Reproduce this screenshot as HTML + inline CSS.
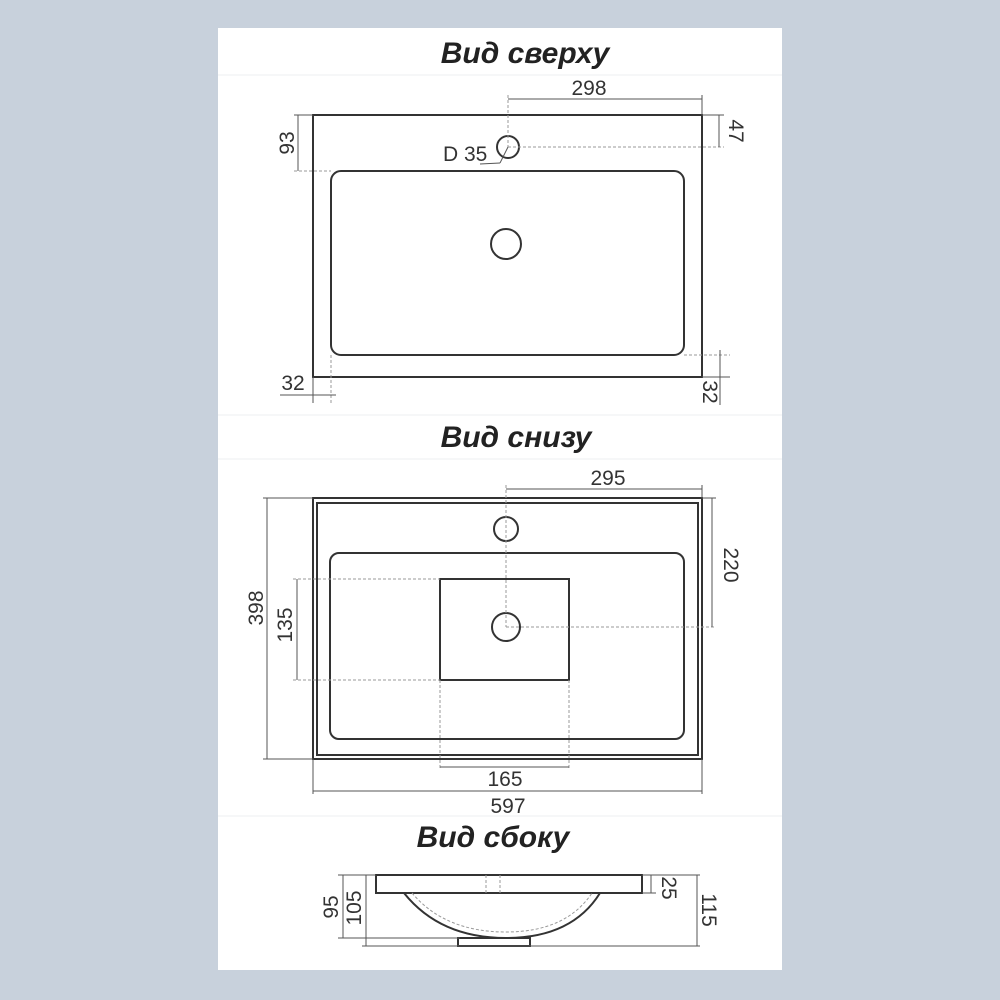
<!DOCTYPE html>
<html><head><meta charset="utf-8"><style>
html,body{margin:0;padding:0;background:#c8d1dc;}
svg{display:block}
text{font-family:"Liberation Sans",sans-serif;fill:#333}
.t{font-size:30px;font-weight:bold;font-style:italic;fill:#222}
.d{font-size:21px}
.k{fill:none;stroke:#333;stroke-width:2}
.m{fill:none;stroke:#555;stroke-width:1}
.h{fill:none;stroke:#999;stroke-width:1;stroke-dasharray:3 2}
</style></head><body>
<svg width="1000" height="1000" viewBox="0 0 1000 1000">
<rect x="0" y="0" width="1000" height="1000" fill="#c8d1dc"/>
<rect x="218" y="28" width="564" height="942" fill="#fff"/>
<g stroke="#eceff2" stroke-width="1">
<line x1="218" y1="75" x2="782" y2="75"/><line x1="218" y1="415" x2="782" y2="415"/>
<line x1="218" y1="459" x2="782" y2="459"/><line x1="218" y1="816" x2="782" y2="816"/>
</g>
<text class="t" x="525" y="63" text-anchor="middle">Вид сверху</text>
<text class="t" x="516" y="447" text-anchor="middle">Вид снизу</text>
<text class="t" x="493" y="847" text-anchor="middle">Вид сбоку</text>

<!-- TOP VIEW -->
<rect class="k" x="313" y="115" width="389" height="262"/>
<rect class="k" x="331" y="171" width="353" height="184" rx="10"/>
<circle class="k" cx="508" cy="147" r="11"/>
<circle class="k" cx="506" cy="244" r="15"/>
<line class="m" x1="508" y1="99" x2="702" y2="99"/>
<line class="h" x1="508" y1="95" x2="508" y2="147"/>
<line class="m" x1="702" y1="95" x2="702" y2="115"/>
<text class="d" x="589" y="95" text-anchor="middle">298</text>
<line class="h" x1="508" y1="147" x2="724" y2="147"/>
<line class="m" x1="702" y1="115" x2="724" y2="115"/>
<line class="m" x1="719" y1="115" x2="719" y2="147"/>
<text class="d" transform="translate(729,131) rotate(90)" text-anchor="middle">47</text>
<line class="m" x1="298" y1="115" x2="298" y2="171"/>
<line class="m" x1="294" y1="115" x2="313" y2="115"/>
<line class="h" x1="294" y1="171" x2="331" y2="171"/>
<text class="d" transform="translate(294,143) rotate(-90)" text-anchor="middle">93</text>
<text class="d" x="443" y="161">D 35</text>
<line class="m" x1="480" y1="164" x2="500" y2="163"/><line class="m" x1="500" y1="163" x2="508" y2="147"/>
<line class="m" x1="313" y1="377" x2="313" y2="403"/>
<line class="h" x1="331" y1="355" x2="331" y2="403"/>
<line class="m" x1="280" y1="395" x2="336" y2="395"/>
<text class="d" x="293" y="390" text-anchor="middle">32</text>
<line class="h" x1="684" y1="355" x2="730" y2="355"/>
<line class="m" x1="702" y1="377" x2="730" y2="377"/>
<line class="m" x1="720" y1="350" x2="720" y2="405"/>
<text class="d" transform="translate(703,392) rotate(90)" text-anchor="middle">32</text>

<!-- BOTTOM VIEW -->
<rect class="k" x="313" y="498" width="389" height="261"/>
<rect class="k" x="317" y="503" width="381" height="252" stroke-width="1.5"/>
<rect class="k" x="330" y="553" width="354" height="186" rx="9"/>
<rect class="k" x="440" y="579" width="129" height="101"/>
<circle class="k" cx="506" cy="529" r="12"/>
<circle class="k" cx="506" cy="627" r="14"/>
<line class="h" x1="506" y1="485" x2="506" y2="627"/>
<line class="h" x1="506" y1="627" x2="716" y2="627"/>
<line class="m" x1="506" y1="489" x2="702" y2="489"/>
<line class="m" x1="702" y1="485" x2="702" y2="498"/>
<text class="d" x="608" y="485" text-anchor="middle">295</text>
<line class="m" x1="702" y1="498" x2="716" y2="498"/>
<line class="m" x1="712" y1="498" x2="712" y2="627"/>
<text class="d" transform="translate(724,565) rotate(90)" text-anchor="middle">220</text>
<line class="m" x1="267" y1="498" x2="267" y2="759"/>
<line class="m" x1="263" y1="498" x2="313" y2="498"/>
<line class="m" x1="263" y1="759" x2="313" y2="759"/>
<text class="d" transform="translate(263,608) rotate(-90)" text-anchor="middle">398</text>
<line class="m" x1="297" y1="579" x2="297" y2="680"/>
<line class="h" x1="293" y1="579" x2="440" y2="579"/>
<line class="h" x1="293" y1="680" x2="440" y2="680"/>
<text class="d" transform="translate(292,625) rotate(-90)" text-anchor="middle">135</text>
<line class="h" x1="440" y1="680" x2="440" y2="770"/>
<line class="h" x1="569" y1="680" x2="569" y2="770"/>
<line class="m" x1="440" y1="767" x2="569" y2="767"/>
<text class="d" x="505" y="786" text-anchor="middle">165</text>
<line class="m" x1="313" y1="759" x2="313" y2="794"/>
<line class="m" x1="702" y1="759" x2="702" y2="794"/>
<line class="m" x1="313" y1="791" x2="702" y2="791"/>
<text class="d" x="508" y="813" text-anchor="middle">597</text>

<!-- SIDE VIEW -->
<rect class="k" x="376" y="875" width="266" height="18" stroke-width="1.5"/>
<line class="h" x1="486" y1="875" x2="486" y2="893"/><line class="h" x1="500" y1="875" x2="500" y2="893"/>
<path class="k" d="M404 893 Q440 938 506 938 Q572 938 600 893" stroke-width="1.5"/>
<path class="h" d="M412 893 Q445 932 506 932 Q566 932 592 893"/>
<rect class="k" x="458" y="938" width="72" height="8" stroke-width="1.2"/>
<line class="m" x1="338" y1="875" x2="376" y2="875"/>
<line class="m" x1="343" y1="875" x2="343" y2="938"/>
<line class="m" x1="338" y1="938" x2="460" y2="938"/>
<text class="d" transform="translate(338,907) rotate(-90)" text-anchor="middle">95</text>
<line class="m" x1="366" y1="875" x2="366" y2="946"/>
<line class="m" x1="362" y1="946" x2="700" y2="946"/>
<text class="d" transform="translate(361,908) rotate(-90)" text-anchor="middle">105</text>
<line class="m" x1="642" y1="875" x2="700" y2="875"/>
<line class="m" x1="642" y1="893" x2="656" y2="893"/>
<line class="m" x1="651" y1="875" x2="651" y2="893"/>
<text class="d" transform="translate(662,888) rotate(90)" text-anchor="middle">25</text>
<line class="m" x1="697" y1="875" x2="697" y2="946"/>
<text class="d" transform="translate(702,910) rotate(90)" text-anchor="middle">115</text>
</svg>
</body></html>
